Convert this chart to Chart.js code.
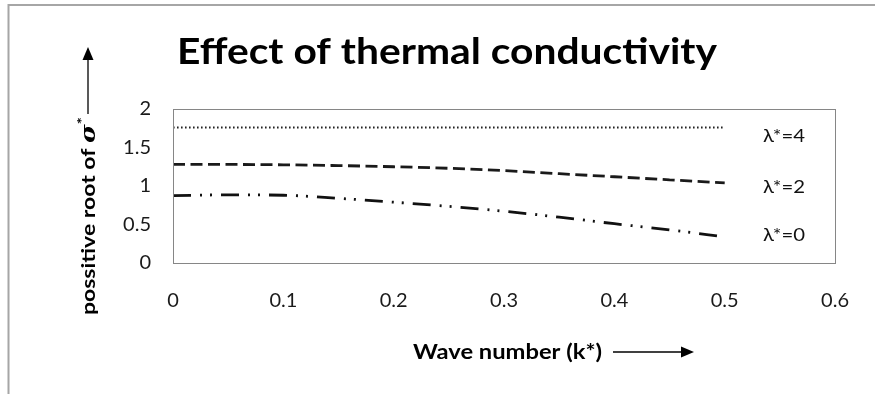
<!DOCTYPE html>
<html>
<head>
<meta charset="utf-8">
<style>
  html, body { margin: 0; padding: 0; background: #fff; }
  #wrap { width: 875px; height: 394px; position: relative; }
  canvas { display: block; }
</style>
<script src="https://cdn.jsdelivr.net/npm/chart.js@4.4.1/dist/chart.umd.min.js"></script>
</head>
<body>
<div id="wrap"><canvas id="c" width="875" height="394"></canvas></div>
<script>
// ---- data ----
const waveNumbers = [0, 0.05, 0.1, 0.15, 0.2, 0.25, 0.3, 0.35, 0.4, 0.45, 0.5];
const rootLambda4 = [1.76, 1.76, 1.76, 1.76, 1.76, 1.76, 1.76, 1.76, 1.76, 1.76, 1.76];
const rootLambda2 = [1.28, 1.28, 1.275, 1.265, 1.25, 1.23, 1.2, 1.16, 1.12, 1.08, 1.04];
const rootLambda0 = [0.875, 0.885, 0.88, 0.84, 0.79, 0.735, 0.672, 0.595, 0.51, 0.43, 0.34];
const seriesLabels = ['λ*=4', 'λ*=2', 'λ*=0'];
const xTickLabels = ['0', '0.1', '0.2', '0.3', '0.4', '0.5', '0.6'];
const yTickLabels = ['0', '0.5', '1', '1.5', '2'];
const chartTitle = 'Effect of thermal conductivity';
const xTitle = 'Wave number (k*)';
const yTitleMain = 'possitive root of ';

function pts(ys) { return waveNumbers.map((x, i) => ({ x: x, y: ys[i] })); }

function fitText(ctx, text, x, y, width, align) {
  const w = ctx.measureText(text).width;
  const s = width / w;
  ctx.save();
  ctx.translate(x, y);
  ctx.scale(s, 1);
  ctx.textAlign = align || 'left';
  ctx.fillText(text, 0, 0);
  ctx.restore();
}

const decor = {
  id: 'decor',
  afterDraw(chart) {
    const ctx = chart.ctx;
    const a = chart.chartArea;
    ctx.save();
    // outer frame (top + left)
    ctx.strokeStyle = '#a6a6a6';
    ctx.lineWidth = 2;
    ctx.beginPath();
    ctx.moveTo(875, 5); ctx.lineTo(8.5, 5); ctx.lineTo(8.5, 394);
    ctx.stroke();
    // plot area border
    ctx.strokeStyle = '#868686';
    ctx.lineWidth = 1;
    ctx.strokeRect(Math.round(a.left) + 0.5, Math.round(a.top) + 0.5,
      Math.round(a.right - a.left), Math.round(a.bottom - a.top));

    ctx.fillStyle = '#000';
    ctx.textBaseline = 'alphabetic';
    // title
    ctx.font = 'bold 37px Lato';
    fitText(ctx, chartTitle, 177, 64, 540, 'left');

    // series labels, right of line ends
    ctx.font = '17px Lato';
    ctx.fillStyle = '#111';
    const lx = 763;
    const labY = [137, 188, 236];
    for (let i = 0; i < 3; i++) {
      ctx.textBaseline = 'middle';
      fitText(ctx, seriesLabels[i], lx, labY[i], 42, 'left');
    }

    // x axis title + arrow
    ctx.fillStyle = '#000';
    ctx.font = 'bold 20px Lato';
    ctx.textBaseline = 'alphabetic';
    fitText(ctx, xTitle, 413, 359, 189, 'left');
    ctx.strokeStyle = '#000';
    ctx.lineWidth = 1.5;
    ctx.beginPath(); ctx.moveTo(613, 352); ctx.lineTo(683, 352); ctx.stroke();
    ctx.beginPath(); ctx.moveTo(694, 352); ctx.lineTo(681, 346.5); ctx.lineTo(681, 357.5); ctx.closePath(); ctx.fill();

    // y axis title (rotated) + arrow
    ctx.save();
    ctx.translate(95, 315);
    ctx.rotate(-Math.PI / 2);
    ctx.font = 'bold 19px Lato';
    const w1 = ctx.measureText(yTitleMain).width;
    ctx.font = 'bold italic 21px "DejaVu Serif"';
    const w2 = ctx.measureText('σ').width;
    ctx.font = 'bold 14px Lato';
    const w3 = ctx.measureText('*').width;
    const total = w1 + w2 + w3;
    const s = 198 / total;
    ctx.scale(s, 1);
    ctx.textAlign = 'left';
    ctx.textBaseline = 'alphabetic';
    ctx.font = 'bold 19px Lato';
    ctx.fillText(yTitleMain, 0, 0);
    ctx.font = 'bold italic 21px "DejaVu Serif"';
    ctx.fillText('σ', w1, 0);
    ctx.font = 'bold 14px Lato';
    ctx.fillText('*', w1 + w2, -8);
    ctx.restore();

    ctx.strokeStyle = '#222';
    ctx.lineWidth = 1.5;
    ctx.beginPath(); ctx.moveTo(88, 114); ctx.lineTo(88, 58); ctx.stroke();
    ctx.fillStyle = '#000';
    ctx.beginPath(); ctx.moveTo(88, 47); ctx.lineTo(82.5, 60); ctx.lineTo(93.5, 60); ctx.closePath(); ctx.fill();
    ctx.restore();
  }
};

new Chart(document.getElementById('c'), {
  type: 'line',
  data: {
    datasets: [
      { label: seriesLabels[0], data: pts(rootLambda4), borderColor: '#222', borderWidth: 2,
        borderDash: [1.6, 2.4], pointRadius: 0, tension: 0 },
      { label: seriesLabels[1], data: pts(rootLambda2), borderColor: '#1a1a1a', borderWidth: 2.8,
        borderDash: [12, 5.5], pointRadius: 0, tension: 0.4, cubicInterpolationMode: 'monotone' },
      { label: seriesLabels[2], data: pts(rootLambda0), borderColor: '#111', borderWidth: 2.8,
        borderDash: [18, 9, 2, 8, 2, 9], pointRadius: 0, tension: 0.4, cubicInterpolationMode: 'monotone' }
    ]
  },
  options: {
    responsive: false,
    animation: false,
    devicePixelRatio: 1,
    layout: { padding: { left: 0, right: 33, top: 109, bottom: 0 } },
    plugins: { legend: { display: false }, title: { display: false }, tooltip: { enabled: false } },
    scales: {
      x: {
        type: 'linear', min: 0, max: 0.6,
        grid: { display: false, drawTicks: false },
        border: { display: false },
        afterFit(scale) { scale.height = 131; },
        afterBuildTicks(scale) { scale.ticks = xTickLabels.map(v => ({ value: parseFloat(v) })); },
        ticks: {
          autoSkip: false, maxRotation: 0, padding: 26,
          color: '#1a1a1a', font: { family: 'Lato', size: 20 },
          callback: (v, i) => xTickLabels[i]
        }
      },
      y: {
        min: 0, max: 2,
        grid: { display: false, drawTicks: false },
        border: { display: false },
        afterFit(scale) { scale.width = 173; },
        afterBuildTicks(scale) { scale.ticks = yTickLabels.map(v => ({ value: parseFloat(v) })); },
        ticks: {
          autoSkip: false, padding: 22,
          color: '#1a1a1a', font: { family: 'Lato', size: 20 },
          callback: (v, i) => yTickLabels[i]
        }
      }
    }
  },
  plugins: [decor]
});
</script>
</body>
</html>
